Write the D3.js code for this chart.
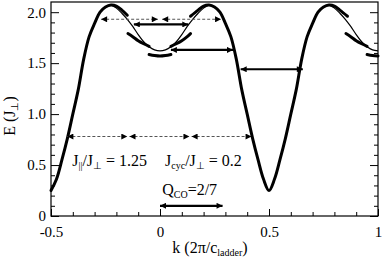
<!DOCTYPE html>
<html>
<head>
<meta charset="utf-8">
<script src="https://d3js.org/d3.v7.min.js"></script>
<style>
  body { margin: 0; background: #fff; }
  svg text { font-family: 'Liberation Serif'; }
</style>
</head>
<body>
<svg id="chart" width="382" height="258"></svg>
<script>
// base dispersion
const kBase = [-0.5,-0.475,-0.45,-0.425,-0.4,-0.375,-0.35,-0.325,-0.3,-0.275,-0.25,-0.225,-0.2,-0.175,-0.15,-0.125,-0.1,-0.075,-0.05,-0.025,
  0,0.025,0.05,0.075,0.1,0.125,0.15,0.175,0.2,0.225,0.25,0.275,0.3,0.325,0.35,0.375,0.4,0.425,0.45,0.475,
  0.5,0.525,0.55,0.575,0.6,0.625,0.65,0.675,0.7,0.725,0.75,0.775,0.8,0.825,0.85,0.875,0.9,0.925,0.95,0.975,1]
const eBase = [0.25,0.36,0.55,0.76,1.00,1.24,1.54,1.76,1.89,2.00,2.05,2.07,2.04,1.99,1.93,1.86,1.78,1.71,1.66,1.63,
  1.62,1.63,1.66,1.71,1.78,1.86,1.93,1.99,2.04,2.07,2.05,2.00,1.89,1.76,1.54,1.24,1.00,0.76,0.55,0.36,
  0.25,0.36,0.55,0.76,1.00,1.24,1.54,1.76,1.89,2.00,2.05,2.07,2.04,1.99,1.93,1.86,1.78,1.71,1.66,1.63,1.62]

// thick (gapped) band pieces, [k, E]
const thickA = [[-0.5,0.25],[-0.475,0.36],[-0.45,0.55],[-0.425,0.76],[-0.4,1.0],[-0.375,1.24],[-0.35,1.54],[-0.325,1.76],
  [-0.3,1.89],[-0.275,2.0],[-0.25,2.05],[-0.225,2.07],[-0.2,2.06],[-0.175,2.02],[-0.15,1.97]]
const thickB = [[-0.147,1.79],[-0.125,1.76],[-0.1,1.72],[-0.075,1.69],[-0.05,1.665]]
const thickB2 = [[0.05,1.665],[0.075,1.69],[0.1,1.72],[0.125,1.76],[0.14,1.79]]
const thickC = [[-0.05,1.585],[-0.025,1.575],[0,1.57],[0.025,1.575],[0.05,1.585]]
const thickD = [[0.14,1.96],[0.175,2.02],[0.2,2.06],[0.225,2.07],[0.25,2.05],[0.275,2.0],[0.3,1.89],[0.325,1.76],[0.35,1.54],
  [0.375,1.24],[0.4,1.0],[0.425,0.76],[0.45,0.55],[0.475,0.36],[0.5,0.25],[0.525,0.36],[0.55,0.55],[0.575,0.76],[0.6,1.0],
  [0.625,1.24],[0.65,1.54],[0.675,1.76],[0.7,1.89],[0.725,2.0],[0.75,2.05],[0.775,2.07],[0.8,2.06],[0.825,2.02],[0.86,1.96]]
const thickE = [[0.853,1.79],[0.875,1.76],[0.9,1.72],[0.925,1.69],[0.95,1.665]]
const thickF = [[0.95,1.585],[0.975,1.575],[1,1.57]]
const thickPieces = [thickA, thickB, thickB2, thickC, thickD, thickE, thickF]

// arrows: [kStart, kEnd, E]
const dashedArrows = [[-0.27,-0.01,1.93],[0.01,0.28,1.93],[-0.425,-0.15,0.78],[-0.14,0.135,0.78],[0.145,0.42,0.78]]
const solidArrows = [[-0.12,0.13,1.88],[0.05,0.335,1.63],[0.37,0.655,1.44],[0,0.287,0.1]]

const xMajor = [-0.5, 0, 0.5, 1]
const xMajorLabels = ['-0.5', '0', '0.5', '1']
const xMinor = [-0.4,-0.3,-0.2,-0.1,0.1,0.2,0.3,0.4,0.6,0.7,0.8,0.9]
const yMajor = [0, 0.5, 1.0, 1.5, 2.0]
const yMajorLabels = ['0', '0.5', '1.0', '1.5', '2.0']
const yMinor = [0.1,0.2,0.3,0.4,0.6,0.7,0.8,0.9,1.1,1.2,1.3,1.4,1.6,1.7,1.8,1.9]

const margin = { top: 2, right: 4, bottom: 42, left: 51 }
const W = 382, H = 258
const width = W - margin.left - margin.right
const height = H - margin.top - margin.bottom

const svg = d3.select('#chart')
const g = svg.append('g').attr('transform', `translate(${margin.left},${margin.top})`)

const x = d3.scaleLinear().domain([-0.5, 1]).range([0, width])
const y = d3.scaleLinear().domain([0, 2.1]).range([height, 0])

const defs = svg.append('defs')
defs.append('marker').attr('id', 'head')
	.attr('viewBox', '0 0 10 10').attr('refX', 10).attr('refY', 5)
	.attr('markerWidth', 8).attr('markerHeight', 6)
	.attr('markerUnits', 'userSpaceOnUse')
	.attr('orient', 'auto-start-reverse')
	.append('path').attr('d', 'M0,0L10,5L0,10z').attr('fill', '#000')

// axes
const fmt = (vals, labels) => d => labels[vals.indexOf(d)]
g.append('g').attr('transform', `translate(0,${height})`)
	.call(d3.axisBottom(x).tickValues(xMajor).tickFormat(fmt(xMajor, xMajorLabels)).tickSize(-7).tickPadding(10))
g.append('g').attr('transform', `translate(0,${height})`)
	.call(d3.axisBottom(x).tickValues(xMinor).tickFormat('').tickSize(-4))
g.append('g')
	.call(d3.axisLeft(y).tickValues(yMajor).tickFormat(fmt(yMajor, yMajorLabels)).tickSize(-8).tickPadding(5))
g.append('g')
	.call(d3.axisLeft(y).tickValues(yMinor).tickFormat('').tickSize(-4))
g.append('g').attr('transform', `translate(${width},0)`)
	.call(d3.axisRight(y).tickValues(yMajor).tickFormat('').tickSize(-8))
g.append('g').attr('transform', `translate(${width},0)`)
	.call(d3.axisRight(y).tickValues(yMinor).tickFormat('').tickSize(-4))
g.selectAll('.domain').remove()
g.selectAll('g').attr('font-family', null).attr('font-size', null)
g.selectAll('.tick line').attr('stroke', '#000').attr('stroke-width', 1)
g.selectAll('.tick text').attr('font-size', 15).attr('fill', '#000')

g.append('rect').attr('width', width).attr('height', height)
	.attr('fill', 'none').attr('stroke', '#000').attr('stroke-width', 1.2)

const line = d3.line().x(d => x(d[0])).y(d => y(d[1])).curve(d3.curveCatmullRom)

// thin base curve
g.append('path').datum(kBase.map((k, i) => [k, eBase[i]]))
	.attr('d', line).attr('fill', 'none').attr('stroke', '#000').attr('stroke-width', 1.2)

// thick pieces
g.selectAll('.thick').data(thickPieces).enter().append('path')
	.attr('class', 'thick').attr('d', line)
	.attr('fill', 'none').attr('stroke', '#000').attr('stroke-width', 3)
	.attr('stroke-linecap', 'round')

// arrows
g.selectAll('.darrow').data(dashedArrows).enter().append('line')
	.attr('x1', d => x(d[0])).attr('x2', d => x(d[1]))
	.attr('y1', d => y(d[2])).attr('y2', d => y(d[2]))
	.attr('stroke', '#555').attr('stroke-width', 1.1).attr('stroke-dasharray', '3,2')
	.attr('marker-start', 'url(#head)').attr('marker-end', 'url(#head)')
g.selectAll('.sarrow').data(solidArrows).enter().append('line')
	.attr('x1', d => x(d[0])).attr('x2', d => x(d[1]))
	.attr('y1', d => y(d[2])).attr('y2', d => y(d[2]))
	.attr('stroke', '#000').attr('stroke-width', 2.2)
	.attr('marker-start', 'url(#head)').attr('marker-end', 'url(#head)')

// annotations
const txt = (sel) => sel.append('text').attr('font-size', 16).attr('fill', '#000')
const sub = (t, s) => { t.append('tspan').attr('font-size', 10).attr('baseline-shift', '-30%').text(s) }
let t = txt(g).attr('x', x(-0.403)).attr('y', y(0.49))
t.append('tspan').text('J'); sub(t, '||'); t.append('tspan').text('/J'); sub(t, '⊥'); t.append('tspan').text(' = 1.25')
t = txt(g).attr('x', x(0.023)).attr('y', y(0.49))
t.append('tspan').text('J'); sub(t, 'cyc'); t.append('tspan').text('/J'); sub(t, '⊥'); t.append('tspan').text(' = 0.2')
t = txt(g).attr('x', x(0.01)).attr('y', y(0.205))
t.append('tspan').text('Q'); sub(t, 'CO'); t.append('tspan').text('=2/7')

// axis titles
t = txt(svg).attr('x', 210).attr('y', 253).attr('text-anchor', 'middle')
t.append('tspan').text('k (2π/c'); sub(t, 'ladder'); t.append('tspan').text(')')
t = txt(svg).attr('transform', 'translate(15,116) rotate(-90)').attr('text-anchor', 'middle')
t.append('tspan').text('E (J'); sub(t, '⊥'); t.append('tspan').text(')')
</script>
</body>
</html>
